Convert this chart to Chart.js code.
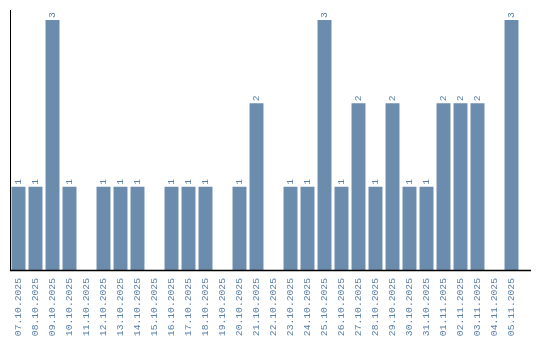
<!DOCTYPE html>
<html><head><meta charset="utf-8">
<script src="https://cdn.jsdelivr.net/npm/chart.js@4/dist/chart.umd.min.js"></script>
<style>html,body{margin:0;padding:0;background:#fff}</style>
</head><body>
<canvas id="c" width="540" height="340"></canvas>
<script>
const categories = ["07.10.2025","08.10.2025","09.10.2025","10.10.2025","11.10.2025","12.10.2025","13.10.2025","14.10.2025","15.10.2025","16.10.2025","17.10.2025","18.10.2025","19.10.2025","20.10.2025","21.10.2025","22.10.2025","23.10.2025","24.10.2025","25.10.2025","26.10.2025","27.10.2025","28.10.2025","29.10.2025","30.10.2025","31.10.2025","01.11.2025","02.11.2025","03.11.2025","04.11.2025","05.11.2025"];
const values = [1,1,3,1,0,1,1,1,0,1,1,1,0,1,2,0,1,1,3,1,2,1,2,1,1,2,2,2,0,3];
const barColor = "#6b8cad";
const textColor = "#5a7fa6";
const fontFam = "'Liberation Mono', 'DejaVu Sans Mono', monospace";

const labelPlugin = {
  id: "vlabels",
  afterDatasetsDraw(chart) {
    const ctx = chart.ctx;
    const meta = chart.getDatasetMeta(0);
    ctx.save();
    ctx.fillStyle = textColor;
    ctx.font = "9.7px " + fontFam;
    ctx.textAlign = "left";
    ctx.textBaseline = "middle";
    meta.data.forEach((bar, i) => {
      const v = values[i];
      if (!v) return;
      ctx.save();
      ctx.translate(bar.x, bar.y - 2);
      ctx.rotate(-Math.PI / 2);
      ctx.fillText(String(v), 0, 0);
      ctx.restore();
    });
    ctx.restore();
  },
  afterDraw(chart) {
    const ctx = chart.ctx, a = chart.chartArea;
    ctx.save();
    ctx.strokeStyle = "#000";
    ctx.lineWidth = 1.5;
    ctx.beginPath();
    ctx.moveTo(a.left, Math.round(a.bottom) + 0.5);
    ctx.lineTo(a.right + 11, Math.round(a.bottom) + 0.5);
    ctx.stroke();
    ctx.restore();
  }
};

new Chart(document.getElementById("c"), {
  type: "bar",
  data: { labels: categories, datasets: [{ data: values, backgroundColor: barColor, barPercentage: 0.82, categoryPercentage: 1.0 }] },
  options: {
    responsive: false,
    animation: false,
    layout: { padding: { left: 2, right: 20, top: 10, bottom: 0 } },
    plugins: { legend: { display: false }, tooltip: { enabled: false } },
    scales: {
      x: {
        grid: { display: false },
        border: { display: false },
        afterFit: (scale) => { scale.height = 70; },
        ticks: { autoSkip: false, maxRotation: 90, minRotation: 90, color: textColor, font: { family: fontFam, size: 9.7 }, padding: 0 }
      },
      y: {
        min: 0, max: 3.12,
        grid: { display: false },
        border: { display: true, color: "#000", width: 1 },
        ticks: { display: false }
      }
    }
  },
  plugins: [labelPlugin]
});
</script>
</body></html>
